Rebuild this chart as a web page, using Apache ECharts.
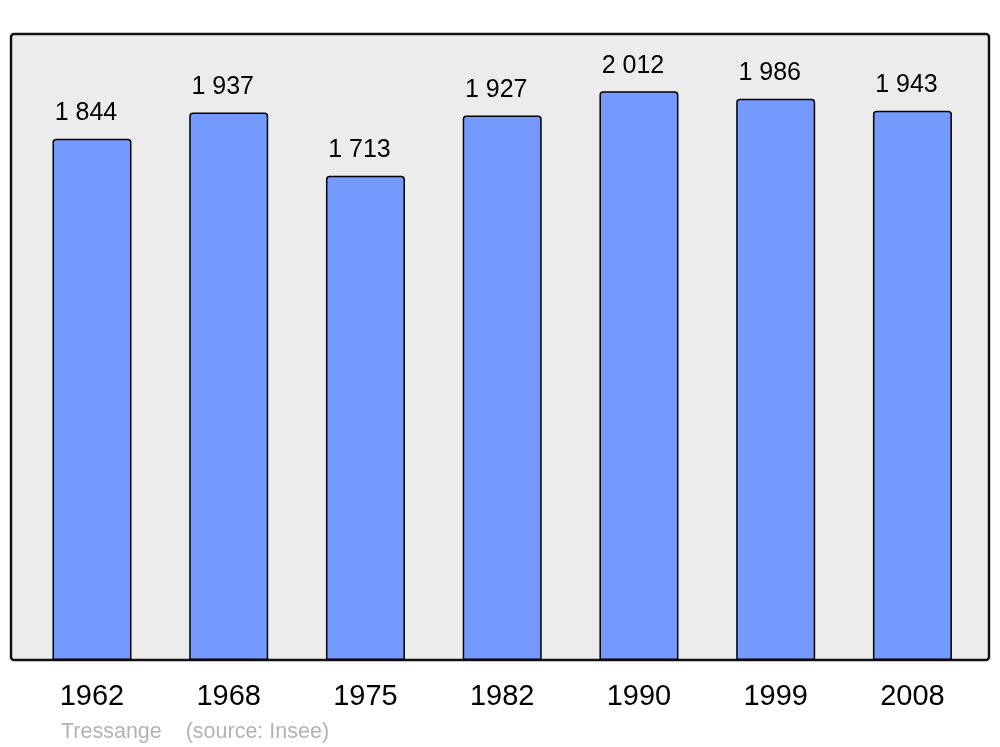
<!DOCTYPE html>
<html><head><meta charset="utf-8">
<script src="https://cdn.jsdelivr.net/npm/echarts@6/dist/echarts.min.js"></script>
<style>html,body{margin:0;padding:0;background:#fff}#c{width:1000px;height:747px}</style>
</head><body><div id="c"></div>
<script>
const years = ['1962','1968','1975','1982','1990','1999','2008'];
const population = [1844, 1937, 1713, 1927, 2012, 1986, 1943];
const footerText = 'Tressange    (source: Insee)';

const chart = echarts.init(document.getElementById('c'), null, {renderer:'canvas'});
chart.setOption({
  animation:false,
  backgroundColor:'#ffffff',
  graphic:[
    {type:'rect', z:-10, shape:{x:11, y:34, width:978, height:626, r:3},
     style:{fill:'#ececec', stroke:'#111', lineWidth:2.5}},
    {type:'text', left:61, top:721, style:{text:footerText, fill:'#b3b3b3', font:'21.5px "Liberation Sans", Arial, sans-serif'}}
  ],
  grid:{left:23.6, right:19.2, top:34, bottom:87, containLabel:false},
  xAxis:{type:'category', data:years, axisLine:{show:false}, axisTick:{show:false},
    axisLabel:{color:'#000', fontSize:29, fontFamily:'"Liberation Sans", Arial, sans-serif', margin:22}},
  yAxis:{type:'value', min:0, max:2215, show:false, splitLine:{show:false}},
  series:[{type:'bar', data:population, barWidth:79,
    itemStyle:{color:'#7499ff', borderColor:'#000', borderWidth:1.5, borderRadius:[3,3,0,0]},
    label:{show:true, position:'top', distance:13, offset:[-6,0], color:'#000', fontSize:25,
      fontFamily:'"Liberation Sans", Arial, sans-serif',
      formatter:p=>String(p.value).replace(/\B(?=(\d{3})+(?!\d))/g,' ')}
  }]
});
</script></body></html>
